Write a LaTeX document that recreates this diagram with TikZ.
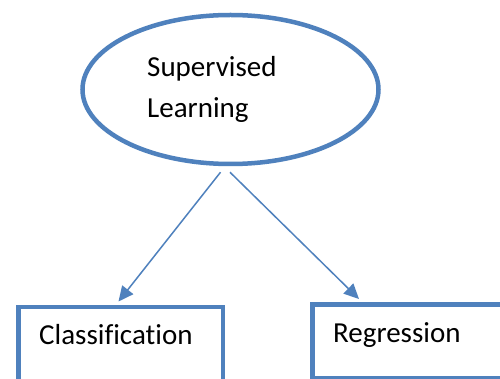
\documentclass[tikz,border=0pt]{standalone}
\usepackage{fontspec}
\setmainfont[Ligatures={NoCommon,NoDiscretionary,NoContextual}]{Carlito}
\usetikzlibrary{shapes.geometric,arrows.meta}
\definecolor{ablue}{RGB}{79,129,189}
\tikzset{
  shapeline/.style={draw=ablue, line width=4.5pt},
  lbl/.style={font=\fontsize{29}{41}\selectfont, text=black, inner sep=0pt, anchor=base west},
  arr/.style={draw=ablue, line width=1.5pt, -{Triangle[length=15pt,width=14pt]}}
}
\begin{document}
\begin{tikzpicture}[x=1pt,y=-1pt]
\clip (0,0) rectangle (500,379);
\fill[white] (0,0) rectangle (500,379);
% ellipse
\node[shapeline, ellipse, minimum width=296pt, minimum height=149pt, inner sep=0pt] (sl) at (230.5,89.5) {};
\node[lbl, align=left] (slt) at (147,118) {Supervised\\Learning};
% boxes
\node[shapeline, rectangle, minimum width=204.5pt, minimum height=110pt, inner sep=0pt, anchor=north west] (cls) at (16,304.5) {};
\node[lbl] (clst) at (39,344) {Classification};
\node[shapeline, rectangle, minimum width=220pt, minimum height=73.5pt, inner sep=0pt, anchor=north west] (reg) at (310,302) {};
\node[lbl] (regt) at (333,342) {Regression};
% connectors
\coordinate (s1) at ([xshift=-10pt,yshift=-6pt]sl.south);
\coordinate (s2) at ([xshift=-0.5pt,yshift=-6pt]sl.south);
\coordinate (t1) at ([xshift=-2pt,yshift=3pt]cls.north);
\coordinate (t2) at ([yshift=3pt]reg.north west -| 359,0);
\draw[arr] (s1) -- (t1);
\draw[arr] (s2) -- (t2);
\end{tikzpicture}
\end{document}
